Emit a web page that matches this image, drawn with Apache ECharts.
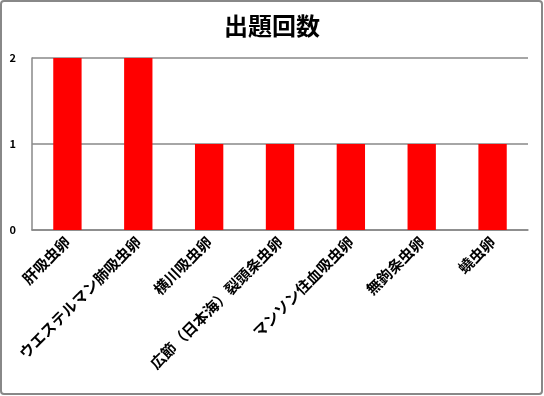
<!DOCTYPE html>
<html><head><meta charset="utf-8">
<script src="https://cdn.jsdelivr.net/npm/echarts@6/dist/echarts.min.js"></script>
<style>html,body{margin:0;padding:0;background:#fff}#c{width:544px;height:396px}</style>
</head><body><div id="c"></div>
<script>
const title = '出題回数';
const categories = ['肝吸虫卵','ウエステルマン肺吸虫卵','横川吸虫卵','広節（日本海）裂頭条虫卵','マンソン住血吸虫卵','無鉤条虫卵','蟯虫卵'];
const counts = [2,2,1,1,1,1,1];
const yTicks = [0,1,2];

const chart = echarts.init(document.getElementById('c'), null, {renderer:'canvas'});
chart.setOption({
  animation:false,
  backgroundColor:'#fff',
  title:{text:title,left:'center',top:9,textStyle:{fontFamily:'Noto Sans CJK JP',fontWeight:'bold',fontSize:24,color:'#000'}},
  graphic:[{type:'rect',shape:{x:1,y:1,width:541,height:393,r:3},style:{fill:'none',stroke:'#888',lineWidth:2},silent:true}],
  grid:{left:32,right:16,top:58,bottom:166},
  xAxis:{type:'category',data:categories,
    axisLine:{show:true,lineStyle:{color:'#888',width:1.5}},
    axisTick:{show:false},
    axisLabel:{rotate:45,interval:0,margin:9,fontFamily:'Noto Sans CJK JP',fontWeight:'bold',fontSize:15,color:'#000'}},
  yAxis:{type:'value',min:yTicks[0],max:yTicks[yTicks.length-1],interval:1,
    axisLine:{show:true,lineStyle:{color:'#888',width:1.5}},
    axisTick:{show:false},
    splitLine:{show:true,lineStyle:{color:'#888',width:1.5}},
    axisLabel:{margin:16,fontFamily:'Noto Sans CJK JP',fontWeight:'bold',fontSize:11,color:'#000'}},
  series:[{type:'bar',data:counts,barWidth:'40%',itemStyle:{color:'#ff0000'}}]
});
</script></body></html>
